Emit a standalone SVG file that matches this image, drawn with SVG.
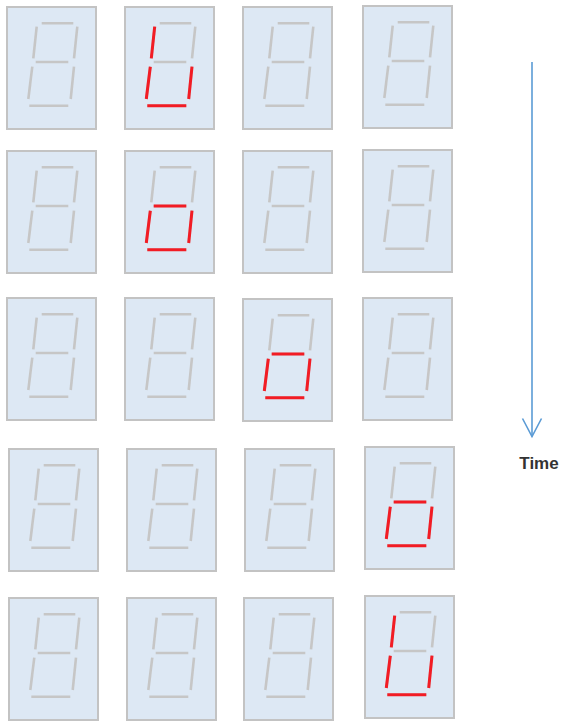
<svg xmlns="http://www.w3.org/2000/svg" xmlns:xlink="http://www.w3.org/1999/xlink" width="576" height="726" viewBox="0 0 576 726">
<style>
.box{fill:#dde8f4;stroke:#c3c3c3;stroke-width:2}
.seg{stroke:#c6c6c6;stroke-width:2.6;fill:none}
.on{stroke:#f21c24;stroke-width:3;fill:none}
.arrow{stroke:#5b9bd5;stroke-width:1.6;fill:none}
.label{font-family:"Liberation Sans",Arial,sans-serif;font-size:17px;font-weight:bold;fill:#333}
</style>
<defs>
<path id="sa" d="M34.7,16.3H66.3"/>
<path id="sf" d="M29.7,19.7L26.3,51.3"/>
<path id="sb" d="M70.3,19.7L67,51.3"/>
<path id="sg" d="M28.7,55H61.3"/>
<path id="se" d="M25.3,59.7L21.3,92"/>
<path id="sc" d="M67,59.7L63.7,92"/>
<path id="sd" d="M22.3,98.7H61.3"/>
<g id="digit">
<rect class="box" x="0" y="0" width="89" height="122"/>
<g class="seg">
<use xlink:href="#sa"/><use xlink:href="#sf"/><use xlink:href="#sb"/><use xlink:href="#sg"/><use xlink:href="#se"/><use xlink:href="#sc"/><use xlink:href="#sd"/>
</g>
</g>
</defs>
<g id="r1c1" transform="translate(7,7)"><use xlink:href="#digit"/></g>
<g id="r1c2" transform="translate(125,7)"><use xlink:href="#digit"/><g class="on"><use xlink:href="#sf"/><use xlink:href="#se"/><use xlink:href="#sc"/><use xlink:href="#sd"/></g></g>
<g id="r1c3" transform="translate(243,7)"><use xlink:href="#digit"/></g>
<g id="r1c4" transform="translate(363,6)"><use xlink:href="#digit"/></g>
<g id="r2c1" transform="translate(7,151)"><use xlink:href="#digit"/></g>
<g id="r2c2" transform="translate(125,151)"><use xlink:href="#digit"/><g class="on"><use xlink:href="#sg"/><use xlink:href="#se"/><use xlink:href="#sc"/><use xlink:href="#sd"/></g></g>
<g id="r2c3" transform="translate(243,151)"><use xlink:href="#digit"/></g>
<g id="r2c4" transform="translate(363,150)"><use xlink:href="#digit"/></g>
<g id="r3c1" transform="translate(7,298)"><use xlink:href="#digit"/></g>
<g id="r3c2" transform="translate(125,298)"><use xlink:href="#digit"/></g>
<g id="r3c3" transform="translate(243,299)"><use xlink:href="#digit"/><g class="on"><use xlink:href="#sg"/><use xlink:href="#se"/><use xlink:href="#sc"/><use xlink:href="#sd"/></g></g>
<g id="r3c4" transform="translate(363,298)"><use xlink:href="#digit"/></g>
<g id="r4c1" transform="translate(9,449)"><use xlink:href="#digit"/></g>
<g id="r4c2" transform="translate(127,449)"><use xlink:href="#digit"/></g>
<g id="r4c3" transform="translate(245,449)"><use xlink:href="#digit"/></g>
<g id="r4c4" transform="translate(365,447)"><use xlink:href="#digit"/><g class="on"><use xlink:href="#sg"/><use xlink:href="#se"/><use xlink:href="#sc"/><use xlink:href="#sd"/></g></g>
<g id="r5c1" transform="translate(9,598)"><use xlink:href="#digit"/></g>
<g id="r5c2" transform="translate(127,598)"><use xlink:href="#digit"/></g>
<g id="r5c3" transform="translate(244,598)"><use xlink:href="#digit"/></g>
<g id="r5c4" transform="translate(365,596)"><use xlink:href="#digit"/><g class="on"><use xlink:href="#sf"/><use xlink:href="#se"/><use xlink:href="#sc"/><use xlink:href="#sd"/></g></g>
<g id="connectors">
<path class="arrow" d="M532,62V436.5"/>
<path class="arrow" d="M522.5,418.5L532,436.5L541.5,418.5"/>
</g>
<g id="time-label"><text class="label" x="539" y="469" text-anchor="middle">Time</text></g>
</svg>
